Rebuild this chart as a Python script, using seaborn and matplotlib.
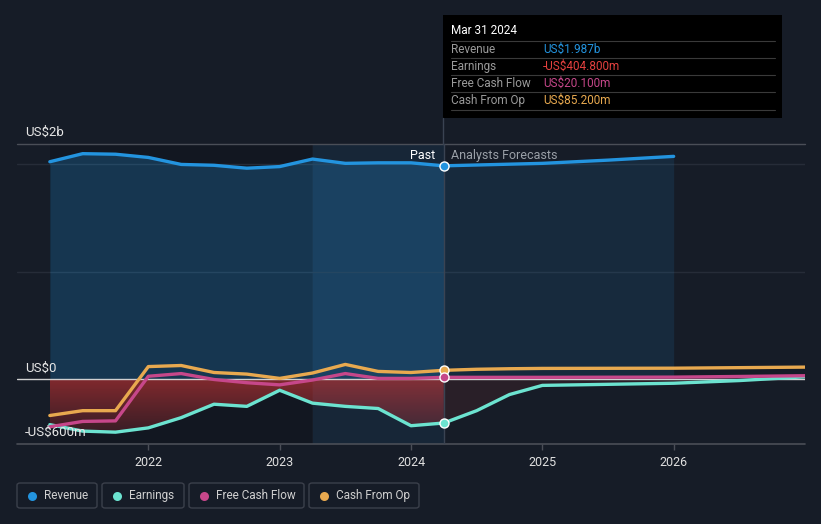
import numpy as np
import pandas as pd
import matplotlib
matplotlib.use("Agg")
import matplotlib.pyplot as plt
import seaborn as sns
from matplotlib.patches import FancyBboxPatch, Rectangle
from matplotlib.lines import Line2D

# ---------------- data ----------------
rev_x = [2021.25, 2021.5, 2021.75, 2022.0, 2022.25, 2022.5, 2022.75, 2023.0,
         2023.25, 2023.5, 2023.75, 2024.0, 2024.25, 2025.0, 2025.5, 2026.0]
revenue = [2025, 2100, 2095, 2065, 2000, 1992, 1965, 1980,
           2050, 2010, 2015, 2015, 1987, 2010, 2040, 2075]

oth_x = [2021.25, 2021.5, 2021.75, 2022.0, 2022.25, 2022.5, 2022.75, 2023.0,
         2023.25, 2023.5, 2023.75, 2024.0, 2024.25, 2024.5, 2024.75, 2025.0,
         2025.5, 2026.0, 2026.5, 2027.0]
earnings = [-420, -480, -490, -450, -355, -230, -250, -100,
            -220, -250, -270, -430, -404.8, -290, -140, -55,
            -45, -35, -10, 25]
fcf = [-440, -390, -385, 30, 55, 0, -30, -50,
       -5, 55, 10, 10, 20.1, 20, 20, 20,
       21, 22, 28, 35]
cfo = [-335, -290, -290, 120, 130, 65, 50, 10,
       60, 140, 75, 65, 85.2, 95, 100, 103,
       104, 105, 110, 115]

series_names = ["Revenue", "Earnings", "Free Cash Flow", "Cash From Op"]
colors = {"Revenue": "#2394df", "Earnings": "#6ce3d0",
          "Free Cash Flow": "#c6478a", "Cash From Op": "#e8a94f"}
tip_values = ["US$1.987b", "-US$404.800m", "US$20.100m", "US$85.200m"]
tip_colors = ["#2394df", "#e5413f", "#c6478a", "#e8a94f"]
year_ticks = [2022, 2023, 2024, 2025, 2026]
y_labels = ["US$2b", "US$0", "-US$600m"]
now_x = 2024.25

df = pd.concat([
    pd.DataFrame({"x": rev_x, "v": revenue, "s": "Revenue"}),
    pd.DataFrame({"x": oth_x, "v": earnings, "s": "Earnings"}),
    pd.DataFrame({"x": oth_x, "v": fcf, "s": "Free Cash Flow"}),
    pd.DataFrame({"x": oth_x, "v": cfo, "s": "Cash From Op"}),
])

BG = "#161c27"
sns.set_theme(style="dark")
plt.rcParams["font.family"] = ["Roboto", "DejaVu Sans"]

W, H = 821, 524
fig = plt.figure(figsize=(W / 100, H / 100), dpi=100, facecolor=BG)

def fx(x): return x / W
def fy(y): return 1 - y / H

ax = fig.add_axes([fx(17), fy(444), fx(805) - fx(17), fy(144) - fy(444)])
ax.set_facecolor(BG)
XMIN, XMAX, YMIN, YMAX = 2021.0, 2027.0, -600, 2190
ax.set_xlim(XMIN, XMAX)
ax.set_ylim(YMIN, YMAX)
for s in ax.spines.values():
    s.set_visible(False)
ax.grid(False)

# background bands
ax.axvspan(2021.25, 2023.25, color="black", alpha=0.15, lw=0, zorder=0)
ax.axvspan(2023.25, now_x, color="#2394df", alpha=0.09, lw=0, zorder=0)

# grid lines
for g in (1000, 2000):
    ax.axhline(g, color="#262c38", lw=1, zorder=1)
ax.axhline(YMAX, color="#4a4e57", lw=1, zorder=1, clip_on=False)
ax.axhline(YMIN, color="#4a4e57", lw=1.2, zorder=1, clip_on=False)

# revenue fills
rx = np.array(rev_x); rv = np.array(revenue, dtype=float)
past = rx <= now_x
ax.fill_between(rx[past], rv[past], 0, color="#2394df", alpha=0.25, lw=0, zorder=2)
fut = rx >= now_x
ax.fill_between(rx[fut], rv[fut], 0, color="#2394df", alpha=0.12, lw=0, zorder=2)

# earnings fills (gradient red)
ox = np.array(oth_x); ev = np.array(earnings, dtype=float)
pm = ox <= now_x
poly = ax.fill_between(ox[pm], ev[pm], 0, color="none", lw=0, zorder=2)
grad = np.zeros((100, 1, 4))
grad[..., 0] = 0.86; grad[..., 1] = 0.22; grad[..., 2] = 0.22
grad[:, 0, 3] = np.linspace(0.55, 0.12, 100)
im = ax.imshow(grad, extent=[2021.25, now_x, -600, 0], aspect="auto",
               origin="upper", zorder=2, interpolation="bilinear")
im.set_clip_path(poly.get_paths()[0], transform=ax.transData)
fm = ox >= now_x
ax.fill_between(ox[fm], ev[fm], 0, color="#d83a3a", alpha=0.1, lw=0, zorder=2)
ax.set_xlim(XMIN, XMAX)
ax.set_ylim(YMIN, YMAX)

# zero line
ax.axhline(0, color="#d0d0d0", lw=1, zorder=3)
ax.axvline(now_x, color="#3a4352", lw=1, zorder=3)

# lines
sns.lineplot(data=df, x="x", y="v", hue="s", hue_order=series_names,
             palette=colors, linewidth=2.4, legend=False, ax=ax, zorder=4,
             sort=True, estimator=None)

# markers at now
now_vals = {"Revenue": 1987, "Earnings": -404.8, "Free Cash Flow": 20.1, "Cash From Op": 85.2}
for name in ["Cash From Op", "Free Cash Flow", "Earnings", "Revenue"]:
    ax.plot([now_x], [now_vals[name]], marker="o", ms=6.5, mfc=colors[name],
            mec="white", mew=1.0, zorder=6, clip_on=False)

ax.set_xlabel(""); ax.set_ylabel("")
ax.set_yticks([])
ax.set_xticks(year_ticks)
ax.set_xticklabels([str(y) for y in year_ticks], color="#e0e0e0", fontsize=9)
ax.tick_params(axis="x", length=4, width=1, color="#4a4e57", pad=5, bottom=True)

# y labels
for ypix, lab in zip([132, 368, 432], y_labels):
    fig.text(fx(25), fy(ypix), lab, color="#e6e6e6", fontsize=9.5,
             ha="left", va="center")

# past / forecast labels
fig.text(fx(435), fy(156), "Past", color="#ffffff", fontsize=9, ha="right", va="center")
fig.text(fx(451), fy(156), "Analysts Forecasts", color="#9aa0a8", fontsize=9,
         ha="left", va="center")

# tooltip
fig.add_artist(Line2D([fx(443), fx(443)], [fy(118), fy(144)], color="#3a4352",
                      lw=1, transform=fig.transFigure))
fig.add_artist(Rectangle((fx(443), fy(118)), fx(782) - fx(443), fy(15) - fy(118),
                         transform=fig.transFigure, facecolor="black", edgecolor="none"))
fig.text(fx(451), fy(31), "Mar 31 2024", color="white", fontsize=8.5, ha="left", va="center")
for ys in (41, 58, 75, 92, 110):
    fig.add_artist(Line2D([fx(451), fx(775)], [fy(ys), fy(ys)], color="#3a3a3a",
                          lw=0.8, transform=fig.transFigure))
for i, name in enumerate(series_names):
    yy = 49.5 + i * 17
    fig.text(fx(451), fy(yy), name, color="#9a9a9a", fontsize=8.5, ha="left", va="center")
    t = fig.text(fx(543), fy(yy), tip_values[i], color=tip_colors[i], fontsize=8.5,
                 ha="left", va="center")
    ax.annotate(" /yr", xy=(1, 0.5), xycoords=t, va="center", ha="left",
                color="#9a9a9a", fontsize=8.5, annotation_clip=False)

# legend
boxes = [(17, 97), (102, 184), (189, 304), (309, 419)]
for (x0, x1), name in zip(boxes, series_names):
    fig.add_artist(FancyBboxPatch((fx(x0), fy(508)), fx(x1) - fx(x0), fy(483) - fy(508),
                                  boxstyle="round,pad=0,rounding_size=0.004",
                                  transform=fig.transFigure, facecolor="none",
                                  edgecolor="#3b404b", lw=1))
    fig.add_artist(Line2D([fx(x0 + 15)], [fy(495.5)], marker="o", ms=6.5,
                          mfc=colors[name], mec="none", transform=fig.transFigure))
    fig.text(fx(x0 + 27), fy(495.5), name, color="#d0d0d0", fontsize=8.5,
             ha="left", va="center")

fig.savefig("out.png", dpi=100, facecolor=BG)
